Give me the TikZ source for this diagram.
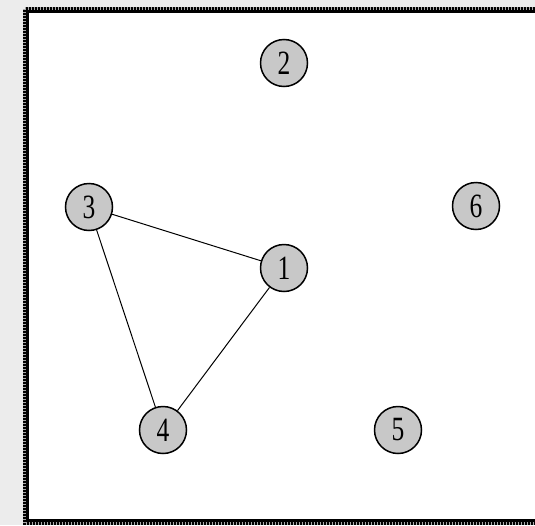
\documentclass[tikz,border=0pt]{standalone}
\usepackage{graphicx}
\usepackage{fontspec}
\newfontfamily\digitfont{Liberation Serif}
\definecolor{bgstrip}{RGB}{236,236,236}
\definecolor{nodefill}{RGB}{200,200,200}
\definecolor{dotgray}{RGB}{170,170,170}
\tikzset{
  vertex/.style={circle, draw=black, line width=1.5pt, fill=nodefill, minimum size=47pt, inner sep=0pt,
    font=\digitfont\fontsize{34}{34}\selectfont},
  edge/.style={black, line width=1pt},
  framedark/.style={black, line width=6pt},
  framedots/.style={dotgray, line width=2.5pt, dash pattern=on 1.5pt off 1.5pt},
}
\newcommand{\lbl}[1]{\scalebox{0.75}[1]{#1}}
\begin{document}
\begin{tikzpicture}[x=1pt,y=-1pt]
\useasboundingbox (0,0) rectangle (535,525);
\fill[bgstrip] (0,0) rectangle (535,525);
\fill[white] (26,10) rectangle (535,522);
\draw[framedark] (26,10) -- (538,10);
\draw[framedark] (26,10) -- (26,522) -- (538,522);
\draw[framedots] (24.5,8.5) -- (538,8.5);
\draw[framedots] (24.5,8.5) -- (24.5,523.5) -- (538,523.5);
\node[vertex] (n2) at (284,63) {\lbl{2}};
\node[vertex] (n3) at (89,207) {\lbl{3}};
\node[vertex] (n6) at (476,206) {\lbl{6}};
\node[vertex] (n1) at (284,268) {\lbl{1}};
\node[vertex] (n4) at (163,430) {\lbl{4}};
\node[vertex] (n5) at (398,430) {\lbl{5}};
\draw[edge] (n3) -- (n1);
\draw[edge] (n3) -- (n4);
\draw[edge] (n1) -- (n4);
\end{tikzpicture}
\end{document}
